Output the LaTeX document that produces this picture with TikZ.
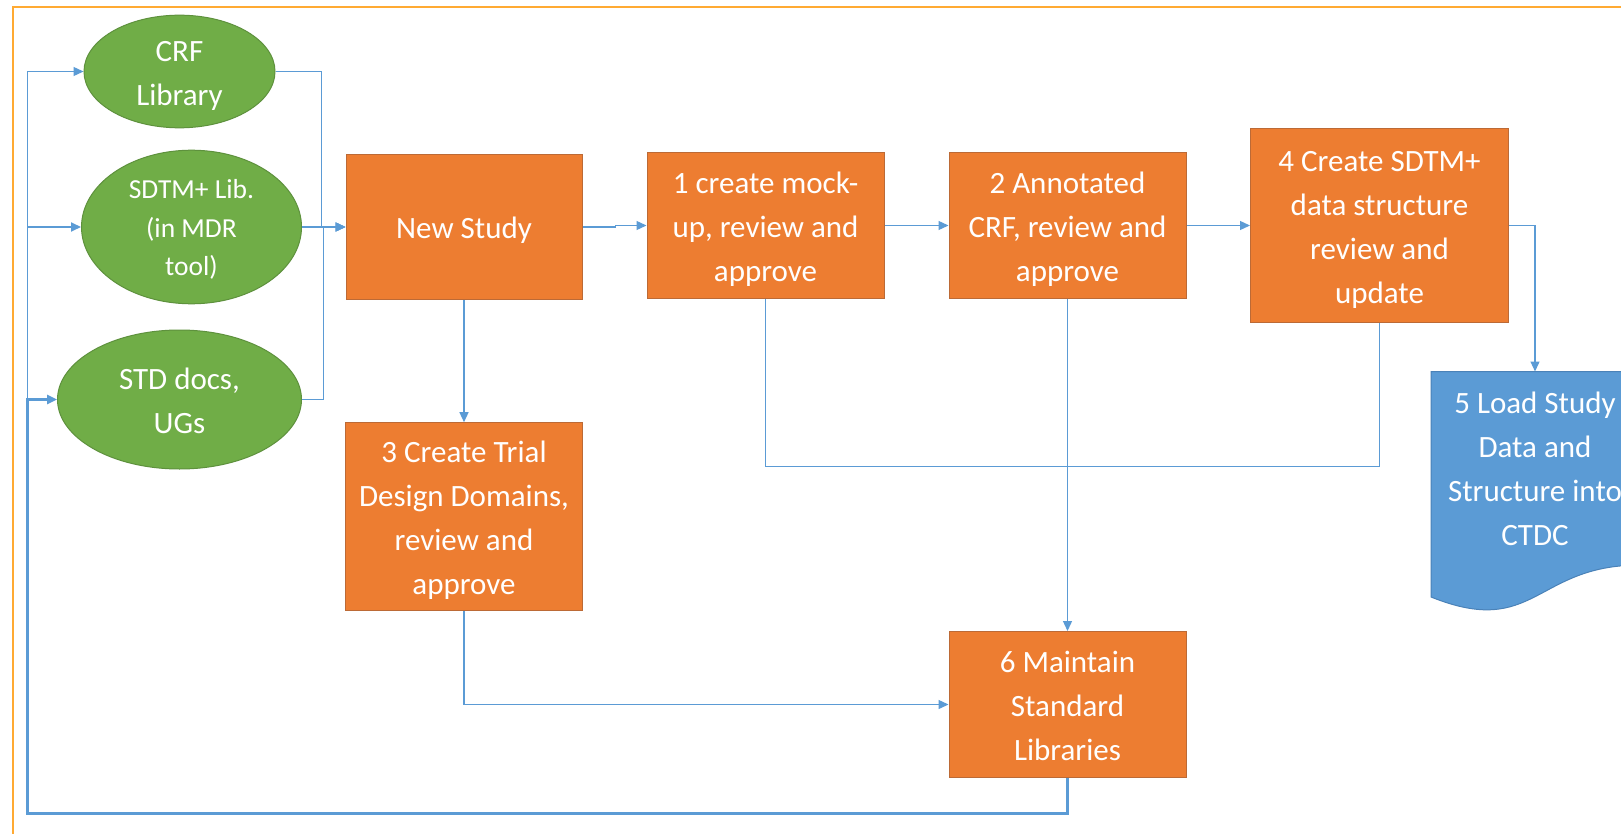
\documentclass[tikz,border=0pt]{standalone}
\usepackage{fontspec}
\setmainfont{Carlito}
\usetikzlibrary{shapes.geometric,arrows.meta,calc}

\definecolor{procfill}{HTML}{ED7D31}
\definecolor{procedge}{HTML}{BC6A36}
\definecolor{libfill}{HTML}{70AD47}
\definecolor{libedge}{HTML}{5E913D}
\definecolor{docfill}{HTML}{5B9BD5}
\definecolor{docedge}{HTML}{4A82B8}
\definecolor{linkblue}{HTML}{5B9BD5}
\definecolor{framecol}{HTML}{FFAA33}

% uniform line strut so every text block is centred the same way
\newcommand\lnstrut{\rule[-0.2em]{0pt}{1.15em}}

\begin{document}
\begin{tikzpicture}[x=1pt,y=-1pt,
  base/.style={inner sep=0pt, text=white, align=center,
               font=\fontsize{31}{44}\selectfont},
  procbox/.style={base, rectangle, draw=procedge, fill=procfill, line width=1pt},
  libell/.style={base, ellipse, draw=libedge, fill=libfill, line width=1pt},
  docshape/.style={draw=docedge, fill=docfill, line width=1pt},
  link/.style={draw=linkblue, line width=1.3pt},
  arr/.style={link, -{Triangle[length=10pt,width=9pt]}},
]
\useasboundingbox (0,0) rectangle (1621,834);
\clip (0,0) rectangle (1621,834);
\fill[white] (0,0) rectangle (1621,834);

% outer frame (runs past the right and bottom edges)
\draw[framecol, line width=2.6pt] (13,7) rectangle (1680,880);

% source libraries
\node[libell, minimum width=191pt, minimum height=107pt] (crf) at (179.5,71.5)
  {\lnstrut CRF\\\lnstrut Library};
\node[libell, minimum width=220pt, minimum height=146pt,
      font=\fontsize{27.5}{38.5}\selectfont] (sdtm) at (191.5,227)
  {\lnstrut SDTM+ Lib.\\\lnstrut (in MDR\\\lnstrut tool)};
\node[libell, minimum width=244pt, minimum height=139pt] (stdd) at (179.5,399.5)
  {\lnstrut STD docs,\\\lnstrut UGs};

% process steps
\node[procbox, minimum width=236pt, minimum height=144pt] (new) at (464,227)
  {\lnstrut New Study};
\node[procbox, minimum width=237pt, minimum height=145pt] (s1) at (765.5,225.5)
  {\lnstrut 1 create mock-\\\lnstrut up, review and\\\lnstrut approve};
\node[procbox, minimum width=237pt, minimum height=145pt] (s2) at (1067.5,225.5)
  {\lnstrut 2 Annotated\\\lnstrut CRF, review and\\\lnstrut approve};
\node[procbox, minimum width=258pt, minimum height=194pt] (s4) at (1379.5,225.5)
  {\lnstrut 4 Create SDTM+\\\lnstrut data structure\\\lnstrut review and\\\lnstrut update};
\node[procbox, minimum width=237pt, minimum height=188pt] (s3) at (464,516.7)
  {\lnstrut 3 Create Trial\\\lnstrut Design Domains,\\\lnstrut review and\\\lnstrut approve};
\node[procbox, minimum width=237pt, minimum height=146pt] (s6) at (1067.5,704.5)
  {\lnstrut 6 Maintain\\\lnstrut Standard\\\lnstrut Libraries};

% document shape for step 5
\draw[docshape] (1431,371.7) -- (1639,371.7) -- (1639,565.1)
  .. controls (1535,565.1) and (1535,638.8) .. (1431,597) -- cycle;
\node[base, minimum width=208pt, minimum height=193pt] (s5) at (1535,468.2)
  {\lnstrut 5 Load Study\\\lnstrut Data and\\\lnstrut Structure into\\\lnstrut CTDC};

% libraries feed the new study
\draw[arr] (crf.east) -| ([xshift=-24pt]new.west) -- (new.west);
\draw[arr] (sdtm.east) -- (new.west);
\draw[arr] (stdd.east) -| ([xshift=-22pt]new.west) -- (new.west);

% main flow
\draw[arr] (new.east) -- ++(33,0) |- (s1.west);
\draw[arr] (s1.east) -- (s2.west);
\draw[arr] (s2.east) -- (s4.west);
\draw[arr] (s4.east) -| (s5.north);
\draw[link] (s1.south) -- ++(0,168) -| (s4.south);
\draw[arr] (new.south) -- (s3.north);
\draw[arr] (s2.south) -- (s6.north);
\draw[arr] (s3.south) |- (s6.west);

% feedback from the standard libraries
\coordinate (loop) at (27.5,813.3);
\draw[arr, line width=2.4pt] (s6.south) |- (loop) |- (stdd.west);
\draw[arr, line width=1.8pt] (s6.south) |- (loop) |- (sdtm.west);
\draw[arr] (s6.south) |- (loop) |- (crf.west);
\end{tikzpicture}
\end{document}
